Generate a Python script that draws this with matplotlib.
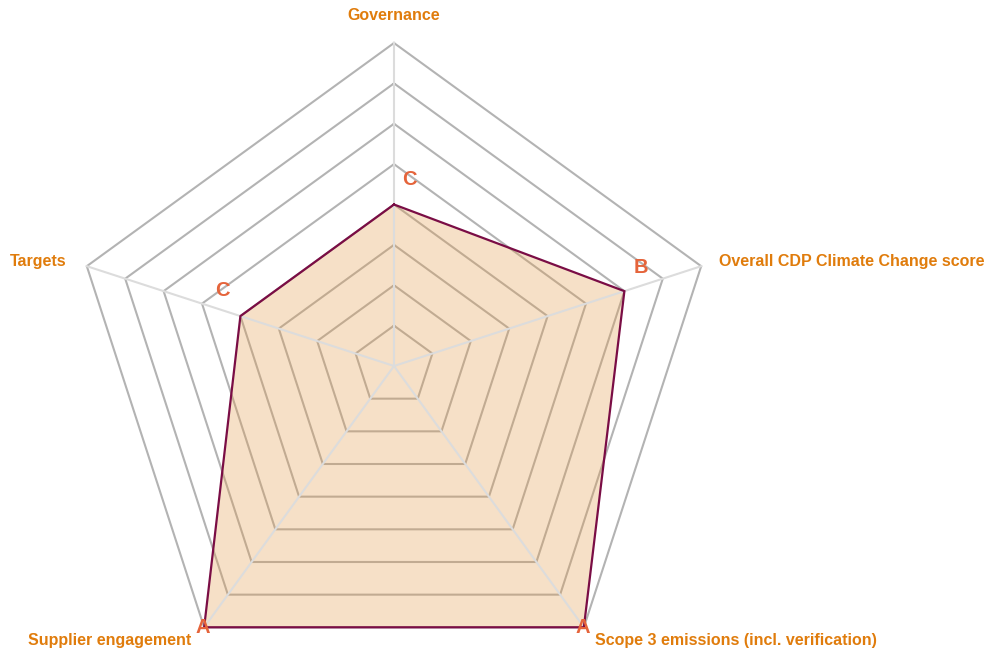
import numpy as np
import matplotlib
matplotlib.use("Agg")
import matplotlib.pyplot as plt

plt.rcParams['font.family'] = ['Liberation Sans', 'DejaVu Sans']

# categories clockwise from the top
categories = ['Governance', 'Overall CDP Climate Change score',
              'Scope 3 emissions (incl. verification)', 'Supplier engagement', 'Targets']
grades = ['C', 'B', 'A', 'A', 'C']
# grade scale: D- .. A  ->  1 .. 8
grade_scale = {'D-': 1, 'D': 2, 'C-': 3, 'C': 4, 'B-': 5, 'B': 6, 'A-': 7, 'A': 8}
levels = [1, 2, 3, 4, 5, 6, 7, 8]

values = np.array([grade_scale[g] for g in grades], dtype=float)
n = len(categories)
angles = np.pi / 2 - np.arange(n) * 2 * np.pi / n
ux, uy = np.cos(angles), np.sin(angles)

# pixel layout: centre at (394, 366), outer ring radius 323 px
scale = 323 / 8
fig = plt.figure(figsize=(9.93, 6.53), dpi=100)
ax = fig.add_axes([0, 0, 1, 1])
ax.set_xlim(-394 / scale, (993 - 394) / scale)
ax.set_ylim(-(653 - 366) / scale, 366 / scale)
ax.set_aspect('equal')
ax.axis('off')

# grid rings
for lv in levels:
    xs = np.append(ux * lv, ux[0] * lv)
    ys = np.append(uy * lv, uy[0] * lv)
    ax.plot(xs, ys, color='#b3b3b3', lw=1.5, zorder=1, solid_joinstyle='miter')

# data polygon
px = np.append(ux * values, ux[0] * values[0])
py = np.append(uy * values, uy[0] * values[0])
ax.fill(px, py, color=(228 / 255, 155 / 255, 72 / 255), alpha=0.3, lw=0, zorder=2)

# spokes
for i in range(n):
    ax.plot([0, ux[i] * 8], [0, uy[i] * 8], color='#dcdcdc', lw=1.5, zorder=3)

ax.plot(px, py, color='#7a0d45', lw=1.6, zorder=4, solid_joinstyle='miter')

# category labels
cat_offsets = [(0, 28), (18, 5), (11, -13), (-13, -13), (-20, 5)]
cat_ha = ['center', 'left', 'left', 'right', 'right']
for i in range(n):
    ax.annotate(categories[i], (ux[i] * 8, uy[i] * 8), xytext=cat_offsets[i],
                textcoords='offset pixels', ha=cat_ha[i], va='center',
                fontsize=11.5, fontweight='bold', color='#e07c0c', zorder=5)

# grade labels
grade_offsets = [(15, 25), (16, 24), (-1, 0), (-1, 0), (-18, 26)]
for i in range(n):
    ax.annotate(grades[i], (ux[i] * values[i], uy[i] * values[i]), xytext=grade_offsets[i],
                textcoords='offset pixels', ha='center', va='center',
                fontsize=14.5, fontweight='bold', color='#e5643b', zorder=6)

fig.savefig('out.png', dpi=100)
